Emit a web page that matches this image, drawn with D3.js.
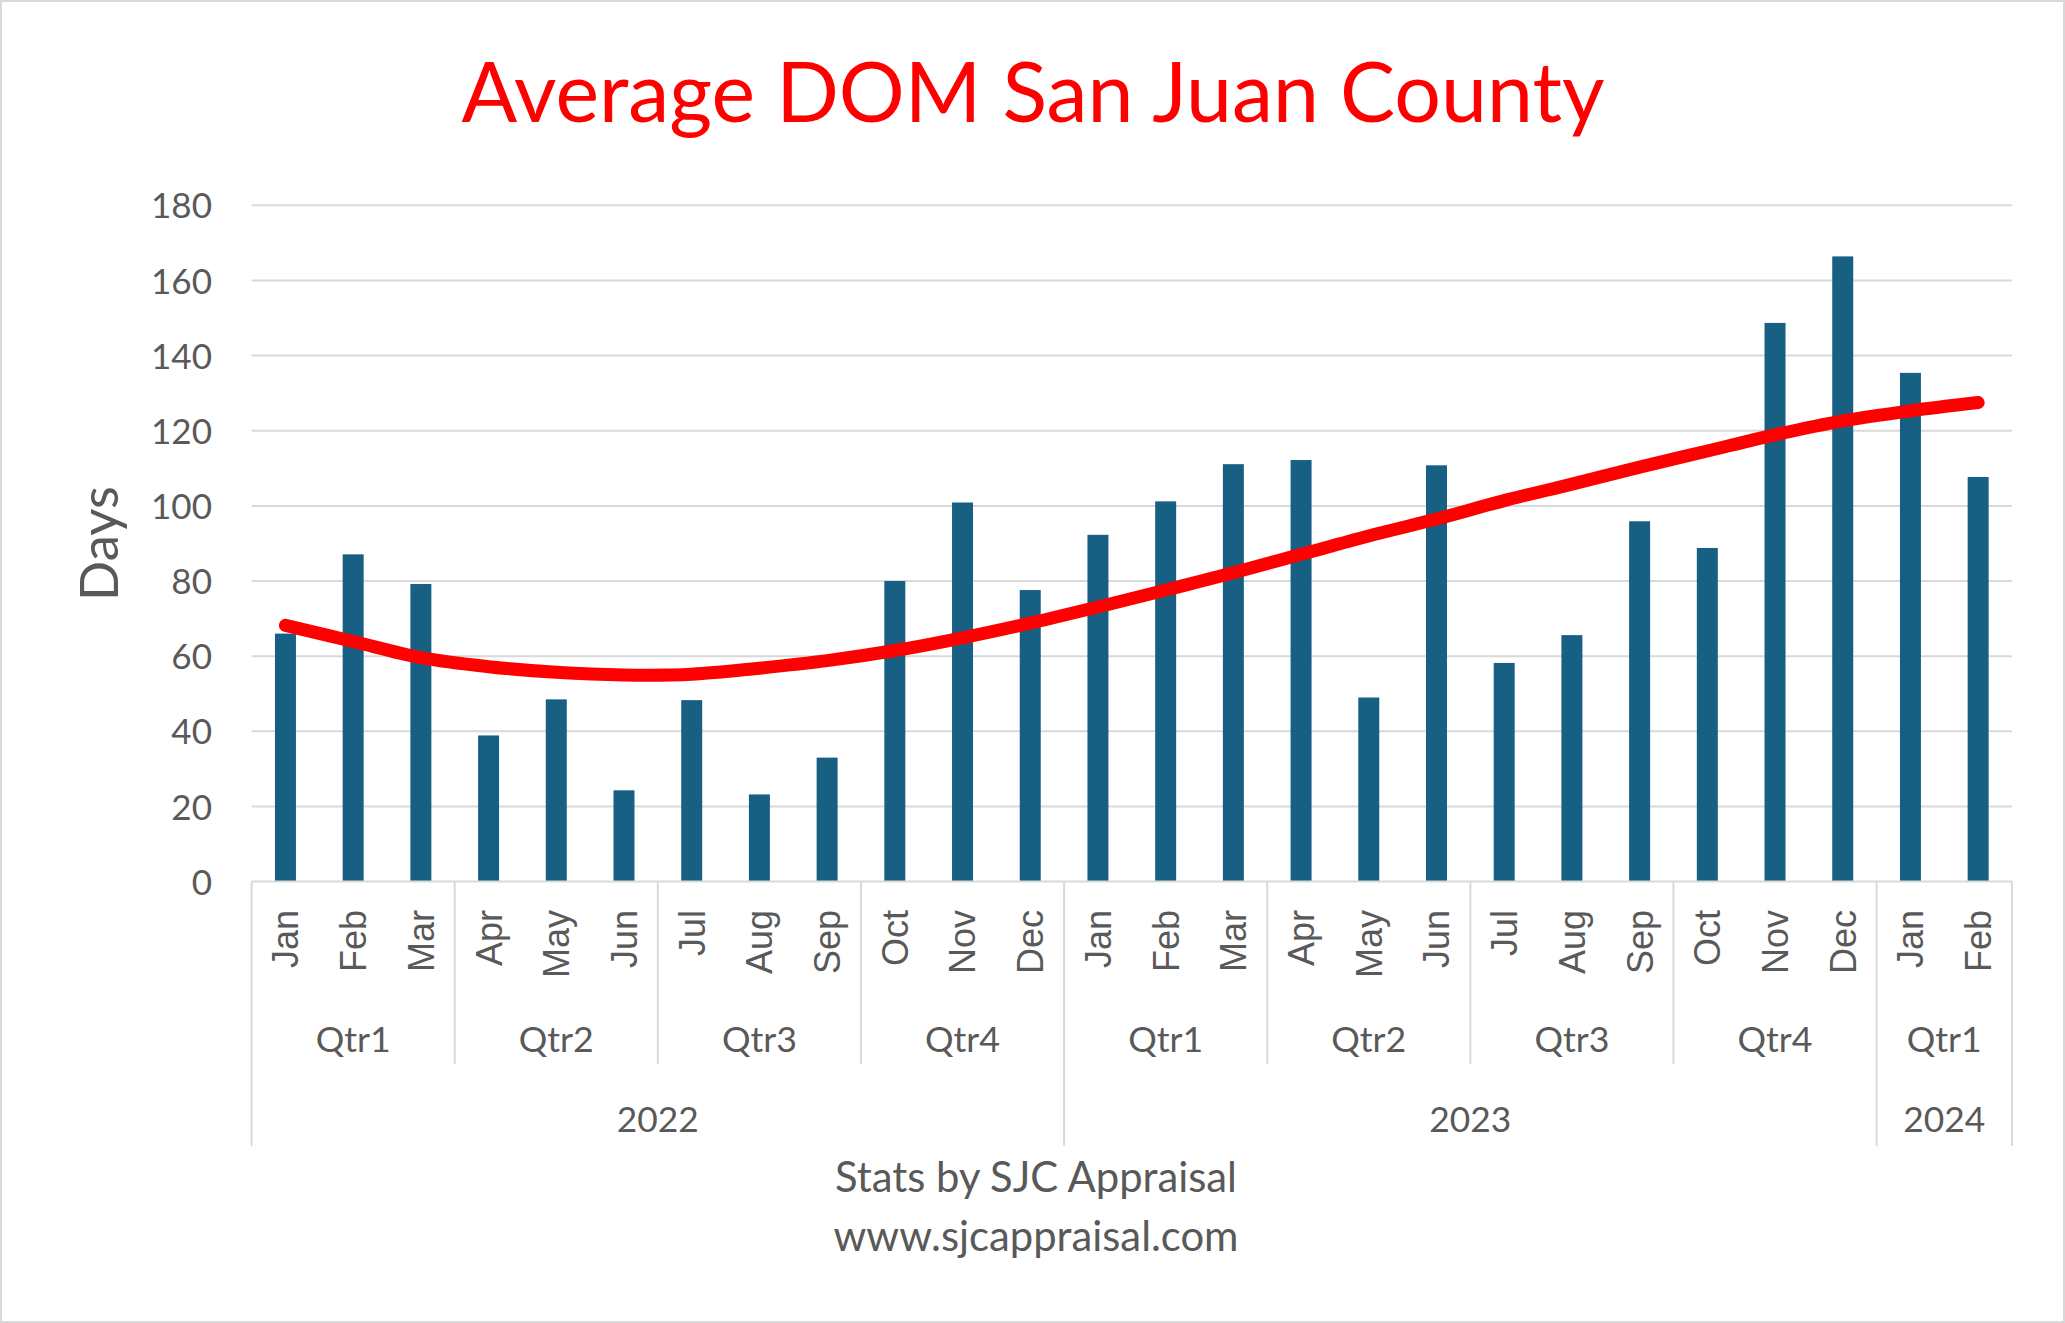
<!DOCTYPE html>
<html>
<head>
<meta charset="utf-8">
<script src="https://cdn.jsdelivr.net/npm/d3@7"></script>
<style>
html,body{margin:0;padding:0;background:#fff;}
svg{display:block;}
</style>
</head>
<body>
<svg id="chart" width="2065" height="1323"></svg>
<script>
// ---- data ----
const months = ["Jan","Feb","Mar","Apr","May","Jun","Jul","Aug","Sep","Oct","Nov","Dec",
                "Jan","Feb","Mar","Apr","May","Jun","Jul","Aug","Sep","Oct","Nov","Dec",
                "Jan","Feb"];
const quarters = ["Qtr1","Qtr2","Qtr3","Qtr4","Qtr1","Qtr2","Qtr3","Qtr4","Qtr1"];
const quarterSizes = [3,3,3,3,3,3,3,3,2];
const years = ["2022","2023","2024"];
const yearSizes = [12,12,2];
const domValues = [66.0,87.1,79.2,38.9,48.5,24.3,48.3,23.2,33.0,80.0,100.9,77.6,
                   92.3,101.2,111.1,112.2,49.0,110.8,58.2,65.6,95.9,88.8,148.7,166.4,
                   135.4,107.7];
const trendValues = [68.2,63.9,59.6,57.2,55.7,55.0,55.2,56.8,58.8,61.5,64.9,68.8,
                     73.1,77.6,82.2,87.1,92.0,96.5,101.4,105.8,110.3,114.6,118.9,122.6,
                     125.3,127.5];
const yTicks = [0,20,40,60,80,100,120,140,160,180];
const titleText = "Average DOM San Juan County";
const yTitle = "Days";
const footer = ["Stats by SJC Appraisal","www.sjcappraisal.com"];

// ---- layout ----
const W = 2065, H = 1323;
const L = 251.6, R = 2012, T = 205.3, B = 881.6;
const TEXT = "#595959", GRID = "#d9d9d9", BAR = "#176084", TREND = "#ff0000";
const SANS = "Lato, 'Noto Sans', sans-serif";

const svg = d3.select("#chart");

function fitSize(str, family, target) {
  const t = svg.append("text").attr("font-family", family).attr("font-size", 100).text(str);
  const w = t.node().getComputedTextLength();
  t.remove();
  return 100 * target / w;
}

svg.append("rect").attr("x",1).attr("y",1).attr("width",W-2).attr("height",H-2)
  .attr("fill","#fff").attr("stroke",GRID).attr("stroke-width",2);

const idx = d3.range(months.length);
const x = d3.scaleBand().domain(idx).range([L, R]).paddingInner(0.69).paddingOuter(0.345);
const step = x.step();
const y = d3.scaleLinear().domain([0, 180]).range([B, T]);

// gridlines
svg.append("g").selectAll("line").data(yTicks.filter(d => d > 0)).join("line")
  .attr("x1", L).attr("x2", R).attr("y1", d => y(d)).attr("y2", d => y(d))
  .attr("stroke", GRID).attr("stroke-width", 2);

// y axis labels
const yFs = fitSize("180", SANS, 61);
const yAxis = d3.axisLeft(y).tickValues(yTicks).tickSize(0).tickPadding(0);
const yg = svg.append("g").attr("transform", `translate(${212},0)`).call(yAxis);
yg.select(".domain").remove();
yg.selectAll("text").attr("font-family", SANS).attr("font-size", yFs).attr("fill", TEXT)
  .attr("x", 0).attr("dy", "0.36em");

// y title
const dFs = fitSize(yTitle, SANS, 115);
svg.append("text").attr("transform", `translate(99,${(T+B)/2}) rotate(-90)`)
  .attr("text-anchor","middle").attr("dy","0.36em")
  .attr("font-family", SANS).attr("font-size", dFs).attr("fill", TEXT).text(yTitle);

// bars
svg.append("g").selectAll("rect").data(idx).join("rect")
  .attr("x", i => x(i)).attr("width", x.bandwidth())
  .attr("y", i => y(domValues[i])).attr("height", i => y(0) - y(domValues[i]))
  .attr("fill", BAR);

// trend line
const line = d3.line().x(i => x(i) + x.bandwidth()/2).y(i => y(trendValues[i]))
  .curve(d3.curveCatmullRom.alpha(0.5));
svg.append("path").datum(idx).attr("d", line).attr("fill","none")
  .attr("stroke", TREND).attr("stroke-width", 13).attr("stroke-linecap","round")
  .attr("stroke-linejoin","round");

// category axis
const qBottom = 1064, yBottom = 1146;
svg.append("line").attr("x1", L).attr("x2", R).attr("y1", B).attr("y2", B)
  .attr("stroke", GRID).attr("stroke-width", 2);

let yb = [0]; yearSizes.reduce((a, s) => { yb.push(a + s); return a + s; }, 0);
svg.append("g").selectAll("line").data(yb).join("line")
  .attr("x1", k => L + k*step).attr("x2", k => L + k*step)
  .attr("y1", B).attr("y2", yBottom).attr("stroke", GRID).attr("stroke-width", 2);
let qb = []; quarterSizes.reduce((a, s) => { qb.push(a + s); return a + s; }, 0);
qb = qb.filter(k => !yb.includes(k));
svg.append("g").selectAll("line").data(qb).join("line")
  .attr("x1", k => L + k*step).attr("x2", k => L + k*step)
  .attr("y1", B).attr("y2", qBottom).attr("stroke", GRID).attr("stroke-width", 2);

// month labels
const MFONT = "'Liberation Sans', Arial, sans-serif";
svg.append("g").selectAll("text").data(idx).join("text")
  .attr("transform", i => `translate(${x(i) + x.bandwidth()/2},910) rotate(-90)`)
  .attr("text-anchor","end").attr("dy","0.36em")
  .attr("font-family", MFONT).attr("font-size", 36).attr("fill", TEXT)
  .text(i => months[i]);

// quarter labels
const qFs = fitSize("Qtr1", SANS, 75);
let qStart = 0;
const qData = quarters.map((q, j) => { const d = {q, s: qStart, n: quarterSizes[j]}; qStart += quarterSizes[j]; return d; });
svg.append("g").selectAll("text").data(qData).join("text")
  .attr("x", d => L + (d.s + d.n/2)*step).attr("y", 1039).attr("dy","0.36em")
  .attr("text-anchor","middle").attr("font-family", SANS).attr("font-size", qFs)
  .attr("fill", TEXT).text(d => d.q);

// year labels
const yrFs = fitSize("2022", SANS, 82);
let yStart = 0;
const yData = years.map((v, j) => { const d = {v, s: yStart, n: yearSizes[j]}; yStart += yearSizes[j]; return d; });
svg.append("g").selectAll("text").data(yData).join("text")
  .attr("x", d => L + (d.s + d.n/2)*step).attr("y", 1119).attr("dy","0.36em")
  .attr("text-anchor","middle").attr("font-family", SANS).attr("font-size", yrFs)
  .attr("fill", TEXT).text(d => d.v);

// footer
const fFs = fitSize(footer[0], SANS, 402);
svg.append("text").attr("x", 1036).attr("y", 1177).attr("dy","0.36em")
  .attr("text-anchor","middle").attr("font-family", SANS).attr("font-size", fFs)
  .attr("fill", TEXT).text(footer[0]);
svg.append("text").attr("x", 1036).attr("y", 1236).attr("dy","0.36em")
  .attr("text-anchor","middle").attr("font-family", SANS).attr("font-size", fFs)
  .attr("fill", TEXT).text(footer[1]);

// title
const tFs = fitSize(titleText, SANS, 1143);
svg.append("text").attr("x", 1033).attr("y", 122).attr("text-anchor","middle")
  .attr("font-family", SANS).attr("font-size", tFs).attr("fill", TREND).text(titleText);
</script>
</body>
</html>
